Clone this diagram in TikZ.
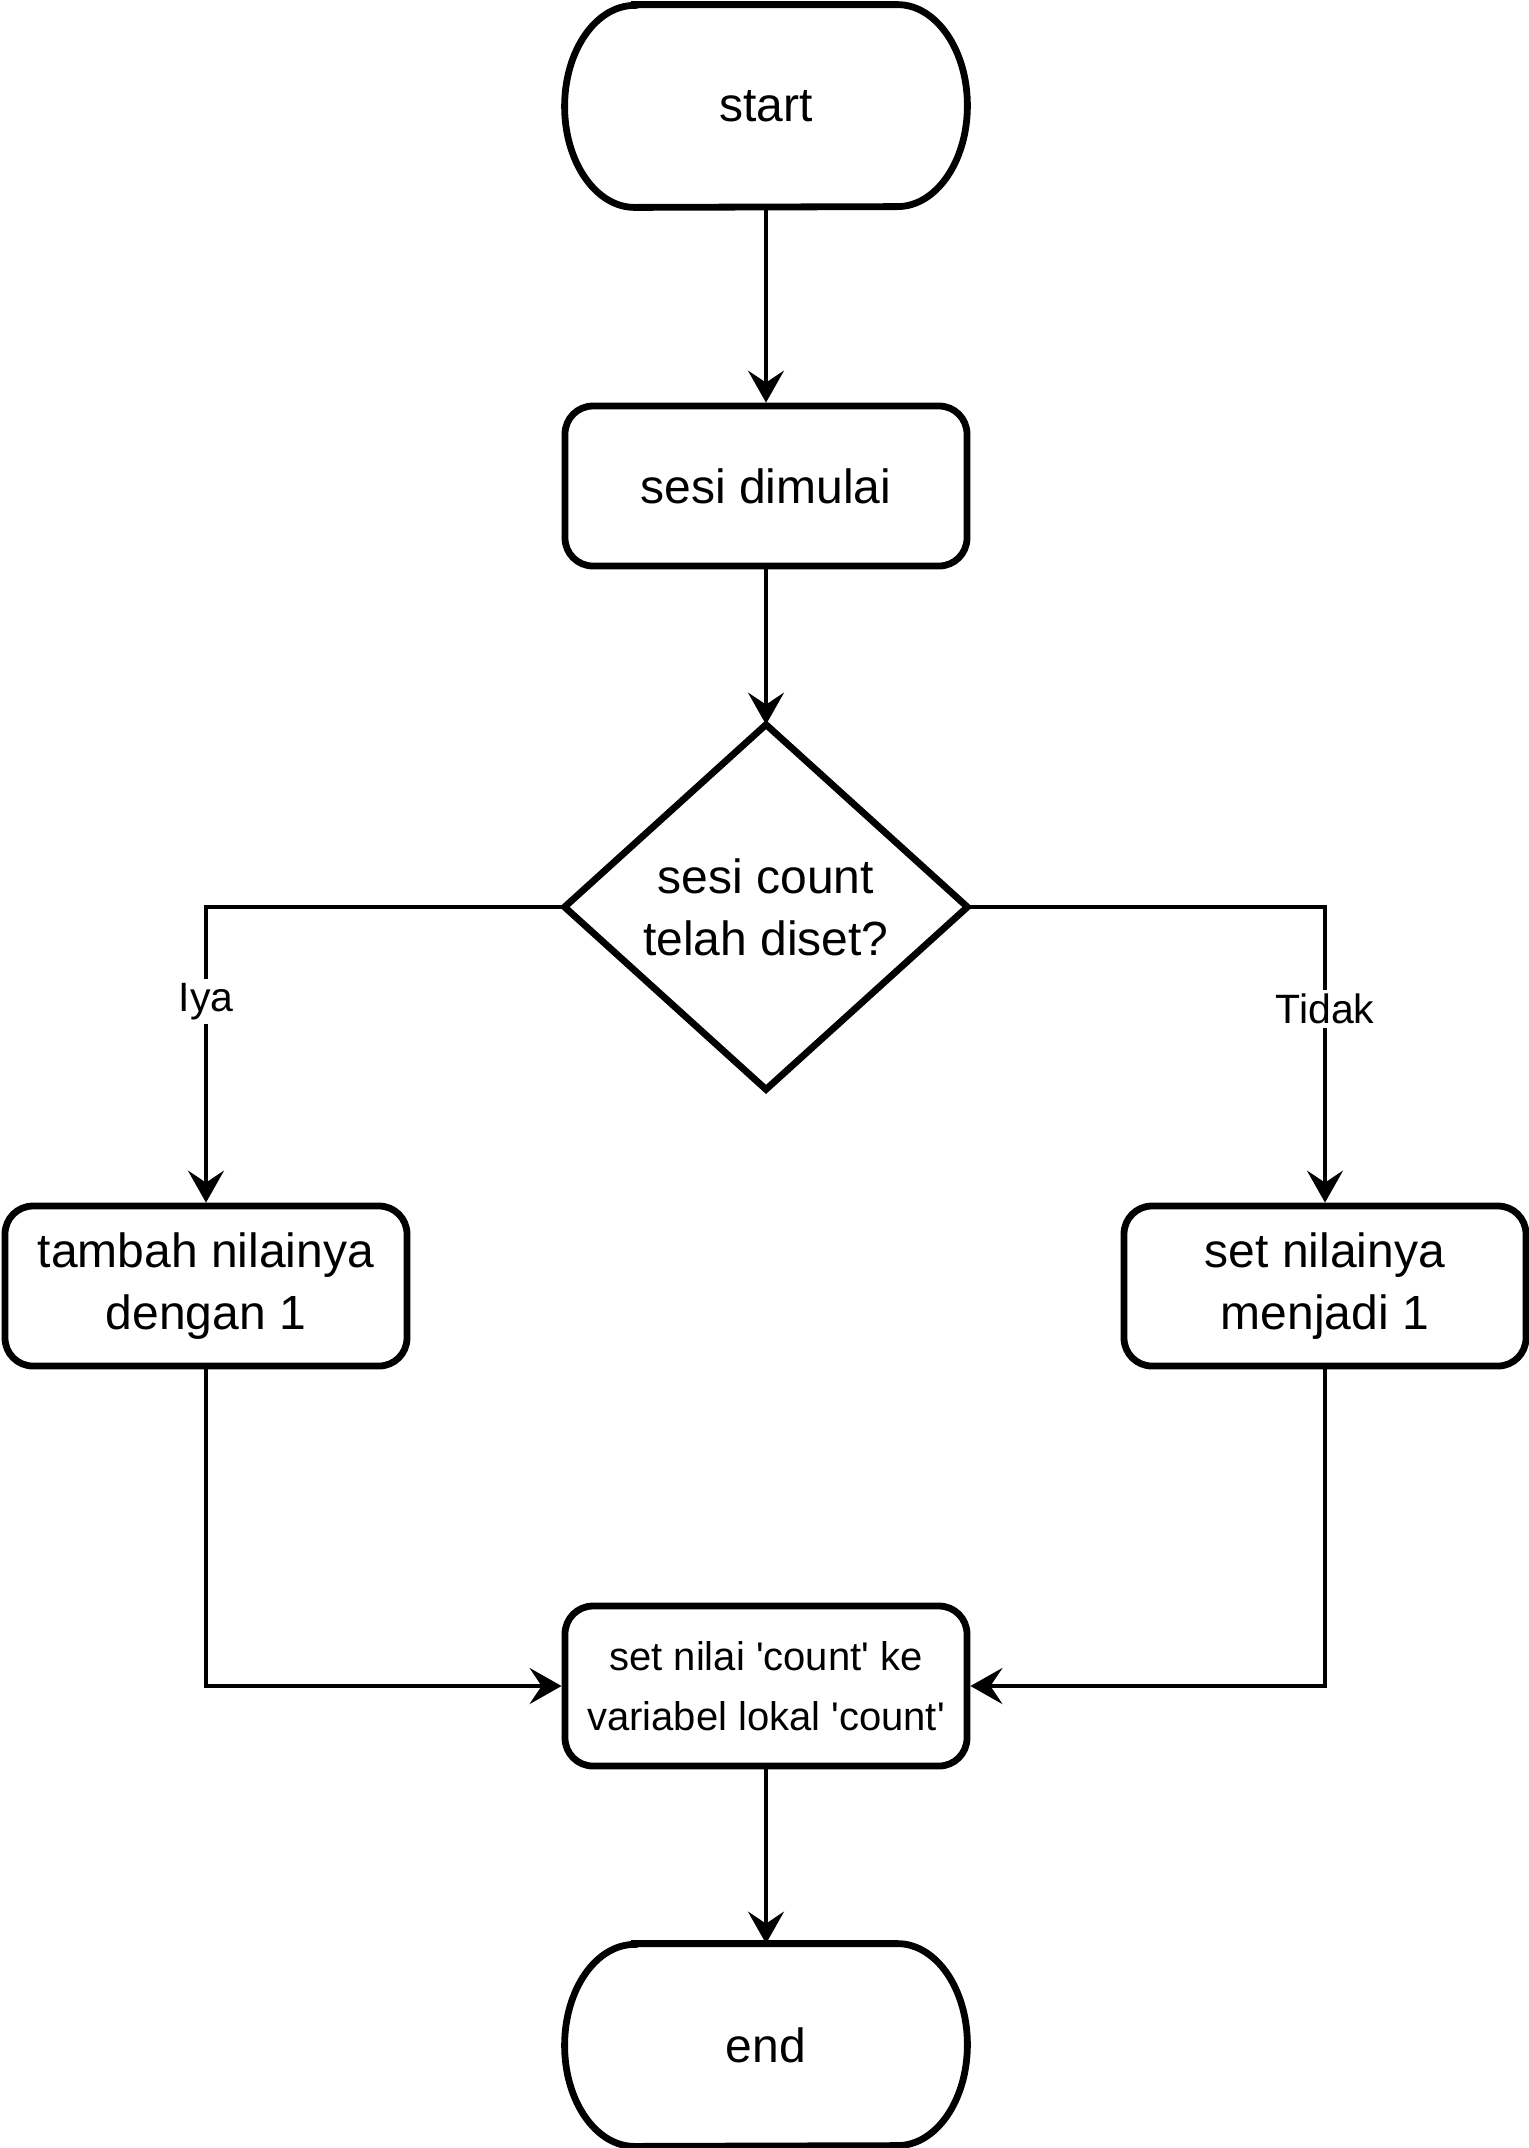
\documentclass[tikz,border=0pt]{standalone}
\usepackage{fontspec}
\setmainfont{Liberation Sans}
\usetikzlibrary{arrows.meta}
\begin{document}
\begin{tikzpicture}[x=0.5pt,y=-0.5pt,
  boxst/.style={draw, line width=3.4pt, rounded corners=14pt, minimum width=201pt, minimum height=80pt, align=center, inner sep=0pt, font=\fontsize{24}{31}\selectfont},
  smallbox/.style={boxst, font=\fontsize{20}{30}\selectfont},
  ghost/.style={minimum width=201pt, minimum height=#1, inner sep=0pt, align=center, font=\fontsize{24}{31}\selectfont},
  outl/.style={line width=3.4pt},
  conn/.style={line width=2pt, -{Stealth[length=16pt, width=18pt, inset=6pt]}},
  lbl/.style={fill=white, inner sep=2pt, font=\fontsize{20.5}{24}\selectfont}
]
\useasboundingbox (0,0) rectangle (1528,2148);
\fill[white] (0,0) rectangle (1528,2148);

% start terminal
\node[ghost=101pt] (start) at (766,106) {start};
\draw[outl] ([xshift=35pt]start.north west) -- ([xshift=-35pt]start.north east)
  arc[start angle=90, end angle=-90, x radius=35pt, y radius=50.5pt]
  -- ([xshift=35pt]start.south west)
  arc[start angle=270, end angle=90, x radius=35pt, y radius=50.5pt] -- cycle;

\node[boxst] (sesi) at (766,486) {sesi dimulai};

% decision
\node[ghost=182pt] (dec) at (766,907) {sesi count\\telah diset?};
\draw[outl, line join=miter] (dec.north) -- (dec.east) -- (dec.south) -- (dec.west) -- cycle;

\node[boxst] (tambah) at (206,1286) {tambah nilainya\\dengan 1};
\node[boxst] (setsatu) at (1325,1286) {set nilainya\\menjadi 1};

\node[smallbox] (simpan) at (766,1686) {set nilai \textquotesingle count\textquotesingle{} ke\\variabel lokal \textquotesingle count\textquotesingle};

% end terminal
\node[ghost=101pt] (end) at (766,2045) {end};
\draw[outl] ([xshift=35pt]end.north west) -- ([xshift=-35pt]end.north east)
  arc[start angle=90, end angle=-90, x radius=35pt, y radius=50.5pt]
  -- ([xshift=35pt]end.south west)
  arc[start angle=270, end angle=90, x radius=35pt, y radius=50.5pt] -- cycle;

% connectors
\draw[conn] (start.south) -- (sesi.north);
\draw[conn] (sesi.south) -- (dec.north);
\draw[conn] (dec.west) -| node[lbl, pos=0.66] (iya) {Iya} (tambah.north);
\draw[conn] (dec.east) -| node[lbl, pos=0.673] (tidak) {Tidak} (setsatu.north);
\draw[conn] (tambah.south) |- (simpan.west);
\draw[conn] (setsatu.south) |- (simpan.east);
\draw[conn] (simpan.south) -- (end.north);
\end{tikzpicture}
\end{document}
